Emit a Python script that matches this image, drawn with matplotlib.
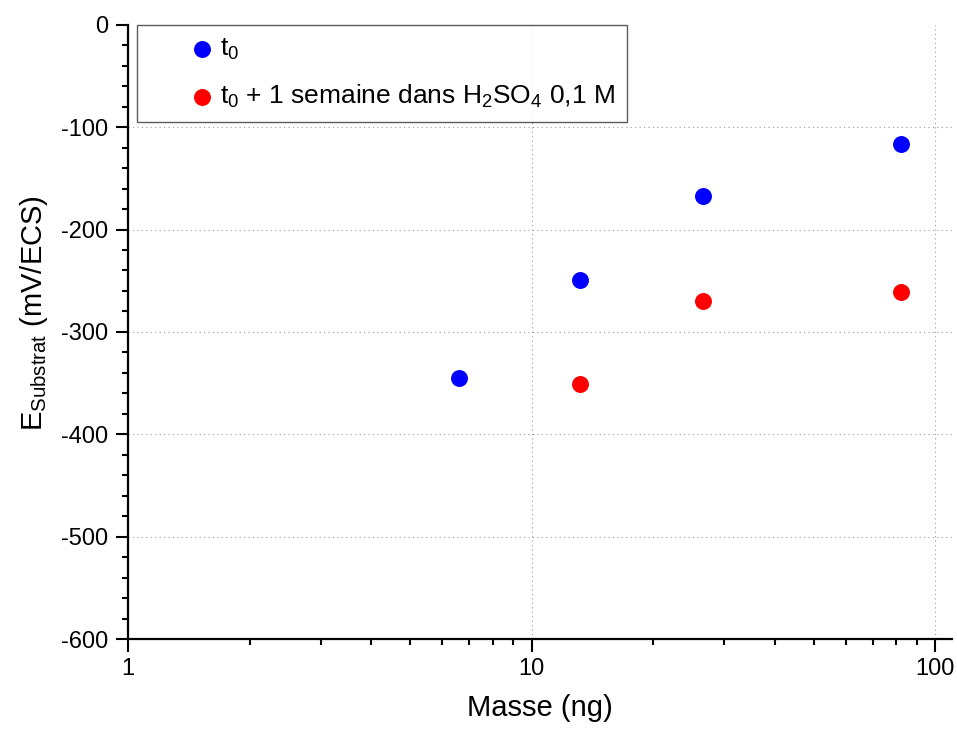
import matplotlib
matplotlib.use('Agg')
import matplotlib.pyplot as plt
from matplotlib.ticker import MultipleLocator, LogLocator, NullFormatter, FixedLocator, FixedFormatter

plt.rcParams['font.family'] = ['Liberation Sans', 'DejaVu Sans']
plt.rcParams['mathtext.fontset'] = 'custom'
plt.rcParams['mathtext.rm'] = 'Liberation Sans'
plt.rcParams['mathtext.it'] = 'Liberation Sans'
plt.rcParams['axes.unicode_minus'] = False

mass_t0 = [6.6, 13.2, 26.5, 82.4]
e_t0 = [-345, -249, -167, -116]
mass_t1 = [13.2, 26.5, 82.4]
e_t1 = [-351, -270, -261]

fig = plt.figure(figsize=(9.57, 7.33), dpi=100)
ax = fig.add_axes([0.1338, 0.1282, 0.861, 0.838])

ax.scatter(mass_t0, e_t0, s=125, color='#0000ff', label=r'$\mathrm{t_0}$', zorder=3)
ax.scatter(mass_t1, e_t1, s=125, color='#ff0000',
           label=r'$\mathrm{t_0}$ + 1 semaine dans H$_2$SO$_4$ 0,1 M', zorder=3)

ax.set_xscale('log')
ax.set_xlim(1, 110)
ax.set_ylim(-600, 0)

ax.xaxis.set_major_locator(FixedLocator([1, 10, 100]))
ax.xaxis.set_major_formatter(FixedFormatter(['1', '10', '100']))
ax.xaxis.set_minor_locator(LogLocator(base=10, subs=range(2, 10)))
ax.xaxis.set_minor_formatter(NullFormatter())
ax.yaxis.set_major_locator(MultipleLocator(100))
ax.yaxis.set_minor_locator(MultipleLocator(20))

for s in ['top', 'right']:
    ax.spines[s].set_visible(False)
for s in ['left', 'bottom']:
    ax.spines[s].set_linewidth(1.6)

ax.tick_params(which='major', direction='out', length=9, width=1.5, labelsize=17, pad=5)
ax.tick_params(which='minor', direction='out', length=4.5, width=1.5)

# dotted grid at the major ticks inside the plot
for y in [-500, -400, -300, -200, -100]:
    ax.axhline(y, linestyle=(0, (1, 3)), color='#999999', linewidth=0.8, zorder=0)
for x in [10, 100]:
    ax.axvline(x, linestyle=(0, (1, 3)), color='#999999', linewidth=0.8, zorder=0)

ax.set_xlabel('Masse (ng)', fontsize=21, labelpad=10)
ax.set_ylabel(r'E$_{\mathrm{Substrat}}$ (mV/ECS)', fontsize=21, labelpad=8)
ax.yaxis.set_label_coords(-0.095, 0.53)

leg = ax.legend(loc='upper left', bbox_to_anchor=(0.011, 1.0), fontsize=19,
                frameon=True, fancybox=False, edgecolor='#333333',
                markerscale=1.0, scatterpoints=1,
                handlelength=4.0, handletextpad=-1.3, borderpad=0.45,
                labelspacing=0.8, borderaxespad=0.0)
leg.get_frame().set_linewidth(1.0)
for h in leg.legend_handles:
    h.set_sizes([125])

fig.savefig('out.png', dpi=100)
